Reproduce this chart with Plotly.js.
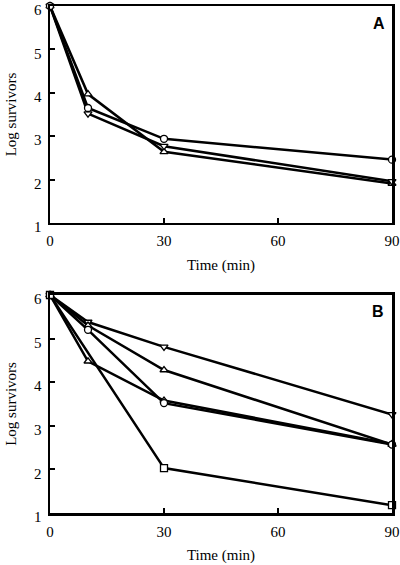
<!DOCTYPE html>
<html>
<head>
<meta charset="utf-8">
<script src="https://cdn.plot.ly/plotly-3.0.1.min.js"></script>
<style>html,body{margin:0;padding:0;background:#fff;}#chart{width:400px;height:565px;}</style>
</head>
<body>
<div id="chart"></div>
<script>
// Panel A
const timeA = [0, 10, 30, 90];
const aCircle = [6, 3.65, 2.94, 2.46];
const aTriUp = [6, 3.97, 2.64, 1.91];
const aTriDown = [6, 3.52, 2.77, 1.96];
// Panel B
const timeB = [0, 10, 30, 90];
const bTriDown = [6, 5.38, 4.81, 3.26];
const bTriUp = [6, 5.3, 4.28, 2.57];
const bCircle = [6, 5.2, 3.52, 2.57];
const bTriUp2 = [6, 4.48, 3.58, 2.58];
const timeBSq = [0, 30, 90];
const bSquare = [6, 2.03, 1.18];

const xTicks = [0, 30, 60, 90];
const yTicks = [1, 2, 3, 4, 5, 6];

function tr(x, y, sym, xa, ya) {
  return {
    x: x, y: y, xaxis: xa, yaxis: ya, type: 'scatter', mode: 'lines+markers',
    line: {color: '#000', width: 2.5},
    marker: {symbol: sym, size: 7, color: '#fff', line: {color: '#000', width: 1.3}},
    cliponaxis: false, showlegend: false
  };
}

const data = [
  tr(timeA, aTriUp, 'triangle-up', 'x', 'y'),
  tr(timeA, aTriDown, 'triangle-down', 'x', 'y'),
  tr(timeA, aCircle, 'circle', 'x', 'y'),
  tr(timeB, bTriDown, 'triangle-down', 'x2', 'y2'),
  tr(timeB, bTriUp, 'triangle-up', 'x2', 'y2'),
  tr(timeB, bTriUp2, 'triangle-up', 'x2', 'y2'),
  tr(timeB, bCircle, 'circle', 'x2', 'y2'),
  tr(timeBSq, bSquare, 'square', 'x2', 'y2')
];

const serif = '"Liberation Serif", "Times New Roman", Times, serif';
const tickFont = {family: serif, size: 15, color: '#000'};
function xax(anchor, domain) {
  return {
    domain: domain, anchor: anchor, range: [0, 90], tickvals: xTicks, ticktext: xTicks.map(String),
    ticks: 'inside', ticklen: 5, tickwidth: 2, tickcolor: '#000',
    showline: true, linewidth: 2.5, linecolor: '#000', mirror: true,
    showgrid: false, zeroline: false, tickfont: tickFont, ticklabeloverflow: 'allow',
    ticklabelstandoff: 3,
    title: {text: 'Time (min)', font: {family: serif, size: 15, color: '#000'}, standoff: 11}
  };
}
function yax(anchor, domain) {
  return {
    domain: domain, anchor: anchor, range: [1, 6], tickvals: yTicks, ticktext: yTicks.map(String),
    ticks: 'inside', ticklen: 5, tickwidth: 2, tickcolor: '#000',
    showline: true, linewidth: 2.5, linecolor: '#000', mirror: true,
    showgrid: false, zeroline: false, tickfont: tickFont, ticklabeloverflow: 'allow',
    ticklabelshift: 4, ticklabelstandoff: 3,
    title: {text: 'Log survivors', font: {family: serif, size: 15, color: '#000'}, standoff: 14}
  };
}

const layout = {
  width: 400, height: 565,
  margin: {l: 50, r: 8, t: 6, b: 52},
  paper_bgcolor: '#fff', plot_bgcolor: '#fff',
  xaxis: xax('y', [0, 1]),
  yaxis: yax('x', [0.572, 1]),
  xaxis2: xax('y2', [0, 1]),
  yaxis2: yax('x2', [0, 0.430]),
  annotations: [
    {text: '<b>A</b>', xref: 'x', yref: 'y', x: 86.5, y: 5.6, showarrow: false,
     font: {family: '"Liberation Sans", Arial, sans-serif', size: 16, color: '#000'}},
    {text: '<b>B</b>', xref: 'x2', yref: 'y2', x: 86.3, y: 5.63, showarrow: false,
     font: {family: '"Liberation Sans", Arial, sans-serif', size: 16, color: '#000'}}
  ]
};

Plotly.newPlot('chart', data, layout, {displayModeBar: false, staticPlot: true});
</script>
</body>
</html>
